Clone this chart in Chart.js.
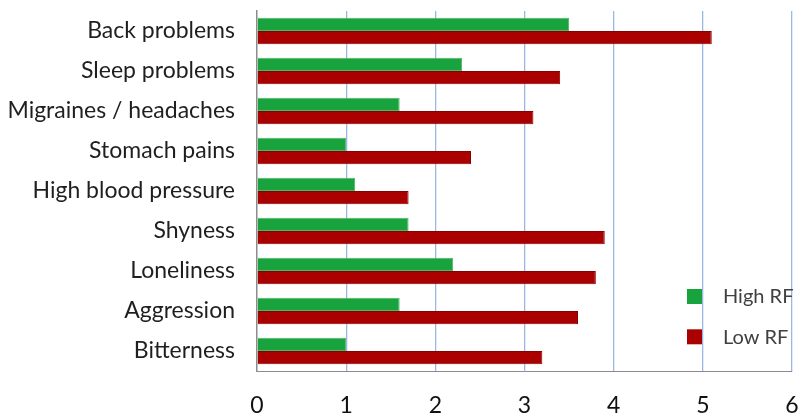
<!DOCTYPE html>
<html>
<head>
<meta charset="utf-8">
<script src="https://cdn.jsdelivr.net/npm/chart.js@4.4.0/dist/chart.umd.min.js"></script>
<style>
  html, body { margin: 0; padding: 0; background: #fff; }
</style>
</head>
<body>
<canvas id="chart" width="800" height="417"></canvas>
<script>
// data
var problemas = ["Back problems", "Sleep problems", "Migraines / headaches", "Stomach pains",
  "High blood pressure", "Shyness", "Loneliness", "Aggression", "Bitterness"];
var highRF = [3.5, 2.3, 1.6, 1.0, 1.1, 1.7, 2.2, 1.6, 1.0];
var lowRF = [5.1, 3.4, 3.1, 2.4, 1.7, 3.9, 3.8, 3.6, 3.2];
var serieNombres = ["High RF", "Low RF"];
var ejeTicks = [0, 1, 2, 3, 4, 5, 6];

Chart.defaults.font.family = "Lato, 'Open Sans', sans-serif";
Chart.defaults.color = "#262626";

// quita el relleno que chart.js deja para las etiquetas de los extremos
function sinRelleno(axis) {
  axis.paddingLeft = 0;
  axis.paddingRight = 0;
  axis.paddingTop = 0;
  axis.paddingBottom = 0;
}

// leyenda dentro del area, abajo a la derecha
var leyendaDentro = {
  id: "leyendaDentro",
  afterDatasetsDraw: function (chart) {
    var ctx = chart.ctx;
    ctx.save();
    ctx.font = "20px Lato, 'Open Sans', sans-serif";
    ctx.textBaseline = "middle";
    chart.data.datasets.forEach(function (ds, i) {
      var y = 289 + i * 40.3;
      ctx.fillStyle = ds.backgroundColor;
      ctx.fillRect(687, y, 15, 15);
      ctx.fillStyle = "#404040";
      ctx.fillText(ds.label, 723, y + 8);
    });
    ctx.restore();
  }
};

var chart = new Chart("chart", {
  type: "bar",
  data: {
    labels: problemas,
    datasets: [
      {
        label: serieNombres[0],
        data: highRF,
        backgroundColor: "#19a33e",
        borderColor: "#4fb868",
        borderWidth: 1,
        categoryPercentage: 0.667,
        barPercentage: 1.0
      },
      {
        label: serieNombres[1],
        data: lowRF,
        backgroundColor: "#aa0000",
        borderColor: "#8a0000",
        borderWidth: 1,
        categoryPercentage: 0.667,
        barPercentage: 1.0
      }
    ]
  },
  options: {
    indexAxis: "y",
    responsive: false,
    animation: false,
    devicePixelRatio: 1,
    layout: { padding: { left: 0, right: 8, top: 11, bottom: 0 } },
    plugins: {
      legend: { display: false },
      tooltip: { enabled: false }
    },
    scales: {
      x: {
        min: 0,
        max: 6,
        afterBuildTicks: function (axis) {
          axis.ticks = ejeTicks.map(function (v) { return { value: v }; });
        },
        afterFit: function (axis) { axis.height = 46; sinRelleno(axis); },
        grid: {
          // en 0 va la linea gris del eje, no la azul
          color: function (c) { return c.tick && c.tick.value === 0 ? "rgba(0,0,0,0)" : "#9bb7e3"; },
          lineWidth: 1.3,
          drawTicks: false
        },
        border: { color: "#8c8c8c", width: 1 },
        ticks: { font: { size: 23 }, color: "#111", padding: 21, maxRotation: 0 }
      },
      y: {
        afterFit: function (axis) { axis.width = 257; sinRelleno(axis); },
        grid: { display: false, drawTicks: false },
        border: { color: "#8c8c8c", width: 1.5 },
        ticks: { font: { size: 23 }, color: "#1f1f1f", padding: 22, autoSkip: false }
      }
    }
  },
  plugins: [leyendaDentro]
});
</script>
</body>
</html>
